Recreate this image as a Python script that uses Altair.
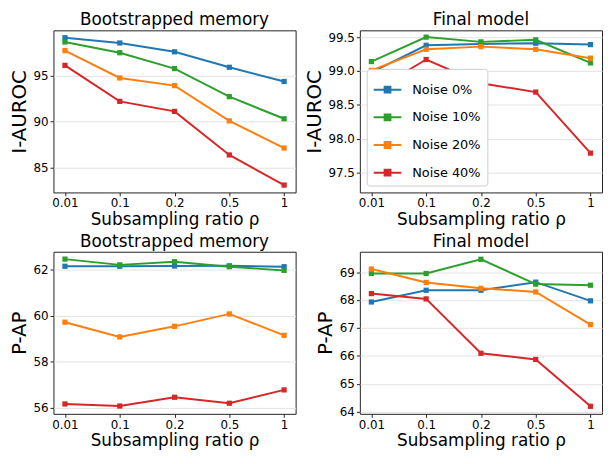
import altair as alt
import pandas as pd

ratios = ["0.01", "0.1", "0.2", "0.5", "1"]
series = ["Noise 0%", "Noise 10%", "Noise 20%", "Noise 40%"]
colors = ["#1f77b4", "#2ca02c", "#ff7f0e", "#d62728"]

# Bootstrapped memory, I-AUROC
boot_auroc_0 = [99.1, 98.53, 97.57, 95.89, 94.35]
boot_auroc_10 = [98.63, 97.47, 95.75, 92.7, 90.3]
boot_auroc_20 = [97.7, 94.73, 93.9, 90.07, 87.12]
boot_auroc_40 = [96.1, 92.19, 91.1, 86.37, 83.1]

# Final model, I-AUROC
final_auroc_0 = [98.98, 99.38, 99.40, 99.41, 99.39]
final_auroc_10 = [99.14, 99.5, 99.43, 99.46, 99.12]
final_auroc_20 = [99.01, 99.32, 99.36, 99.32, 99.19]
final_auroc_40 = [98.69, 99.17, 98.82, 98.69, 97.79]

# Bootstrapped memory, P-AP
boot_ap_0 = [62.14, 62.14, 62.15, 62.16, 62.12]
boot_ap_10 = [62.45, 62.2, 62.34, 62.12, 61.96]
boot_ap_20 = [59.71, 59.07, 59.53, 60.07, 59.14]
boot_ap_40 = [56.16, 56.07, 56.45, 56.19, 56.77]

# Final model, P-AP
final_ap_0 = [67.93, 68.35, 68.35, 68.64, 67.97]
final_ap_10 = [68.95, 68.95, 69.46, 68.57, 68.53]
final_ap_20 = [69.11, 68.63, 68.42, 68.29, 67.12]
final_ap_40 = [68.23, 68.04, 66.09, 65.87, 64.19]

FONT = "DejaVu Sans"
W, H = 245, 164


def make_df(vals_list):
    rows = []
    for s, vals in zip(series, vals_list):
        for r, v in zip(ratios, vals):
            rows.append({"ratio": r, "series": s, "value": v})
    return pd.DataFrame(rows)


LEG_SYMBOL = "M-1,0L1,0M-0.21,-0.21L0.21,-0.21L0.21,0.21L-0.21,0.21Z"


def panel(vals_list, title, ytitle, domain, ticks, fmt, legend=False):
    df = make_df(vals_list)
    if legend:
        leg = alt.Legend(
            title=None, orient="bottom-left", offset=7,
            symbolType=LEG_SYMBOL, symbolSize=784, symbolStrokeWidth=2,
            labelFontSize=13, labelFont=FONT, labelColor="black",
            labelOffset=10, rowPadding=6, padding=6,
            fillColor="white", strokeColor="#cccccc", cornerRadius=3,
        )
    else:
        leg = None
    color = alt.Color(
        "series:N",
        scale=alt.Scale(domain=series, range=colors),
        sort=series,
        legend=leg,
    )
    x = alt.X(
        "ratio:O", sort=ratios,
        scale=alt.Scale(type="point", padding=0.21),
        axis=alt.Axis(title="Subsampling ratio ρ", labelAngle=0),
    )
    y = alt.Y(
        "value:Q",
        scale=alt.Scale(domain=domain, nice=False, zero=False),
        axis=alt.Axis(title=ytitle, values=ticks, format=fmt),
    )
    base = alt.Chart(df).encode(x=x, y=y, color=color)
    line = base.mark_line(strokeWidth=2)
    pts = base.mark_point(shape="square", filled=True, size=28, opacity=1)
    return (line + pts).properties(
        width=W, height=H,
        title=alt.TitleParams(title, fontSize=17, font=FONT, fontWeight="normal", offset=1),
    )


p1 = panel([boot_auroc_0, boot_auroc_10, boot_auroc_20, boot_auroc_40],
           "Bootstrapped memory", "I-AUROC", [82.3, 99.9], [85, 90, 95], "d")
p2 = panel([final_auroc_0, final_auroc_10, final_auroc_20, final_auroc_40],
           "Final model", "I-AUROC", [97.21, 99.6], [97.5, 98.0, 98.5, 99.0, 99.5], ".1f", legend=True)
p3 = panel([boot_ap_0, boot_ap_10, boot_ap_20, boot_ap_40],
           "Bootstrapped memory", "P-AP", [55.73, 62.77], [56, 58, 60, 62], "d")
p4 = panel([final_ap_0, final_ap_10, final_ap_20, final_ap_40],
           "Final model", "P-AP", [63.92, 69.73], [64, 65, 66, 67, 68, 69], "d")

chart = alt.concat(p1, p2, p3, p4, columns=2, spacing={"row": 4, "column": 7}).resolve_scale(
    color="independent", y="independent"
).resolve_legend(color="independent").properties(padding=0).configure_view(
    stroke="#222222", strokeWidth=1
).configure_axis(
    labelFont=FONT, titleFont=FONT, labelFontSize=12, labelColor="black",
    titleColor="black", titleFontWeight="normal", gridColor="#e3e3e3",
    tickColor="#222222", tickSize=3.5, domain=False, labelPadding=2,
).configure_axisY(
    titleFontSize=20, titlePadding=4,
).configure_axisX(
    titleFontSize=17, titlePadding=3,
)

chart.save("out.html", embed_options={"renderer": "svg", "actions": False})
